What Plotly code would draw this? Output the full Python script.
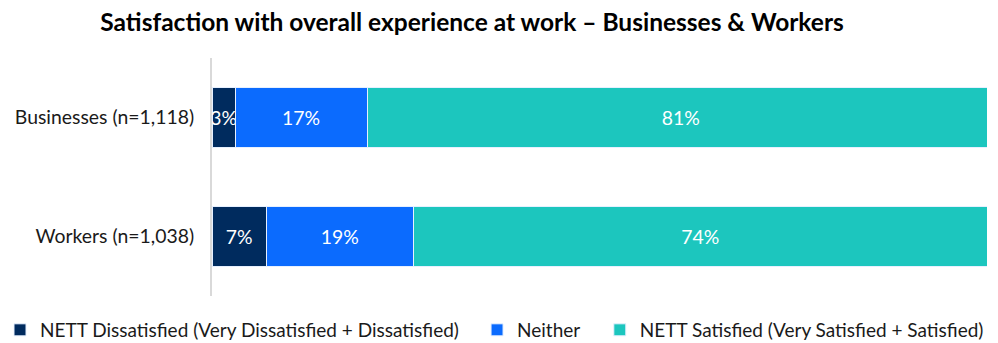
import plotly.graph_objects as go

categories = ["Businesses (n=1,118)", "Workers (n=1,038)"]
series_names = [
    "NETT Dissatisfied (Very Dissatisfied + Dissatisfied)",
    "Neither",
    "NETT Satisfied (Very Satisfied + Satisfied)",
]
dissatisfied = [3, 7]
neither = [17, 19]
satisfied = [81, 74]
colors = ["#002B5E", "#0B6BFE", "#1CC6BE"]

FONT = "Lato"
TXT = 19.4

# each series gets its own legend box so the entries can sit on one row
legend_ids = ["legend", "legend2", "legend3"]
legend_x = [0.0, 0.478, 0.601]

fig = go.Figure()
for name, vals, col, lg in zip(series_names, [dissatisfied, neither, satisfied], colors, legend_ids):
    fig.add_trace(go.Bar(
        y=categories,
        x=vals,
        name=name,
        orientation="h",
        marker=dict(color=col, line=dict(color="#E6F0FF", width=1)),
        text=[f"{v}%" for v in vals],
        textposition="inside",
        insidetextanchor="middle",
        textangle=0,
        constraintext="none",
        textfont=dict(color="white", size=TXT, family=FONT),
        width=0.5,
        hoverinfo="skip",
        legend=lg,
    ))

legend_common = dict(
    orientation="h",
    xref="container", xanchor="left",
    yref="container", y=0.038, yanchor="middle",
    font=dict(size=19, family=FONT, color="#1a1a1a"),
    itemwidth=30,
    bgcolor="rgba(0,0,0,0)",
)

fig.update_layout(
    barmode="stack",
    width=998,
    height=343,
    margin=dict(l=212, r=11, t=58, b=47, autoexpand=False),
    paper_bgcolor="white",
    plot_bgcolor="white",
    font=dict(family=FONT, size=TXT, color="#1a1a1a"),
    title=dict(
        text="<b>Satisfaction with overall experience at work – Businesses & Workers</b>",
        x=0.473, xanchor="center", y=0.935, yanchor="middle",
        font=dict(size=24.5, family=FONT, color="black"),
    ),
    xaxis=dict(range=[0, 100], visible=False, fixedrange=True),
    yaxis=dict(
        autorange="reversed",
        showline=True, linecolor="#D9D9D9", linewidth=2,
        showgrid=False, zeroline=False, ticks="",
        ticklabelstandoff=12,
        tickfont=dict(size=TXT, family=FONT, color="#1a1a1a"),
    ),
    legend=dict(legend_common, x=legend_x[0]),
    legend2=dict(legend_common, x=legend_x[1]),
    legend3=dict(legend_common, x=legend_x[2]),
    showlegend=True,
)

fig.write_html("out.html")
